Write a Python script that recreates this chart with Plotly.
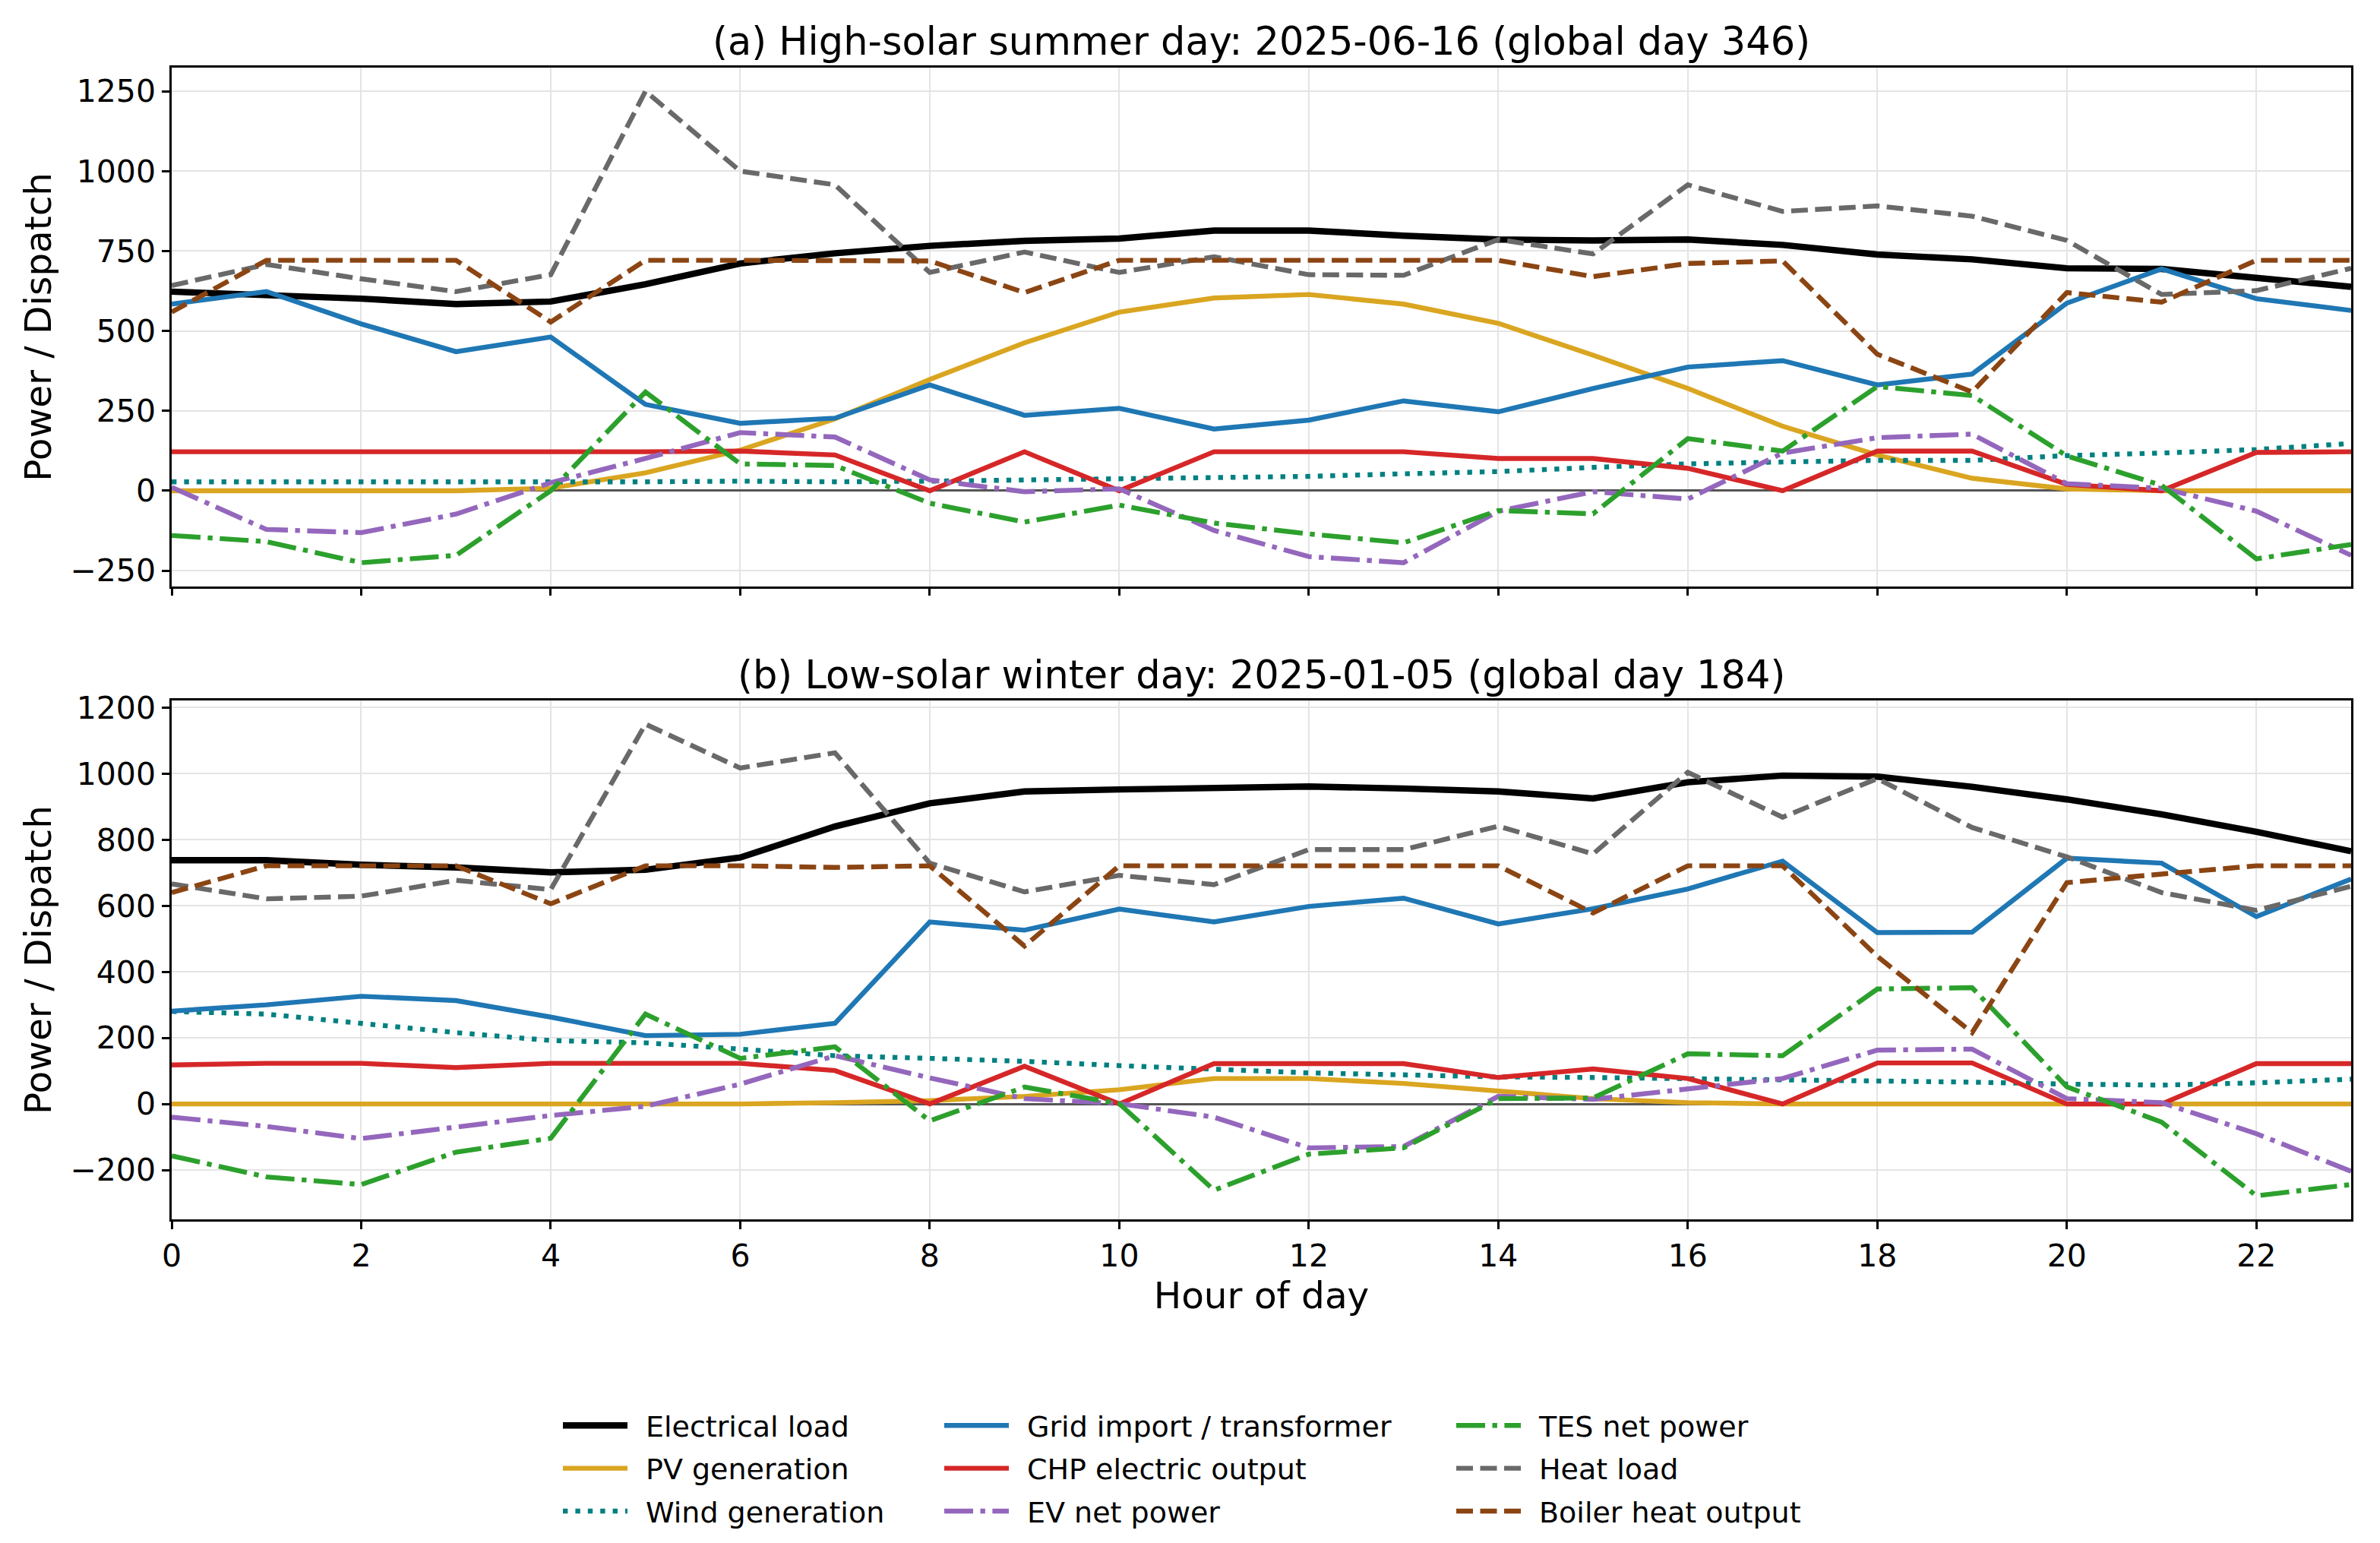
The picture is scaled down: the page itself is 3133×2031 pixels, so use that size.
import plotly.graph_objects as go

# ---------------- data ----------------
hours = list(range(24))

# (a) High-solar summer day
load_s = [623, 614, 601, 584, 592, 646, 711, 743, 766, 782, 789, 814, 814, 798, 786, 783, 786, 769, 739, 724, 696, 694, 665, 638]
pv_s = [0, 0, 0, 0, 8, 56, 127, 225, 348, 463, 559, 603, 614, 584, 524, 424, 320, 202, 112, 39, 6, 0, 0, 0]
wind_s = [28, 28, 26, 25, 25, 28, 30, 28, 30, 34, 37, 42, 45, 53, 60, 73, 84, 90, 95, 95, 110, 118, 129, 148]
grid_s = [584, 623, 522, 435, 481, 270, 211, 227, 331, 236, 258, 193, 221, 281, 247, 320, 387, 407, 331, 365, 587, 694, 601, 564]
chp_s = [122, 122, 122, 120, 122, 122, 124, 112, 0, 122, 0, 122, 122, 122, 101, 101, 70, 0, 124, 124, 20, 0, 120, 122]
ev_s = [11, -121, -131, -73, 25, 101, 182, 168, 34, -3, 6, -124, -206, -225, -64, -3, -26, 118, 166, 177, 22, 8, -64, -202]
tes_s = [-140, -159, -225, -202, 0, 309, 84, 79, -39, -98, -45, -101, -135, -163, -62, -72, 163, 124, 326, 298, 109, 17, -213, -168]
heat_s = [642, 708, 663, 623, 676, 1250, 1000, 957, 683, 747, 683, 732, 676, 674, 786, 741, 957, 874, 891, 859, 783, 614, 626, 696]
boiler_s = [559, 721, 721, 721, 528, 721, 721, 719, 719, 620, 721, 721, 721, 721, 721, 670, 711, 719, 427, 309, 620, 590, 721, 721]

# (b) Low-solar winter day
load_w = [738, 738, 724, 716, 701, 709, 746, 840, 910, 946, 952, 958, 961, 955, 946, 925, 974, 994, 991, 960, 922, 877, 824, 765]
pv_w = [0, 0, 0, 0, 0, 0, 0, 4, 10, 23, 43, 77, 77, 62, 38, 16, 4, 0, 0, 0, 0, 0, 0, 0]
wind_w = [280, 272, 244, 216, 192, 185, 166, 146, 138, 129, 116, 105, 94, 88, 82, 80, 77, 71, 69, 66, 60, 57, 64, 75]
grid_w = [281, 300, 326, 313, 263, 207, 211, 244, 551, 526, 590, 551, 598, 623, 545, 591, 651, 735, 519, 520, 744, 729, 567, 681]
chp_w = [118, 123, 123, 110, 123, 123, 123, 101, 0, 114, 0, 122, 122, 122, 80, 106, 77, 0, 124, 124, 0, 0, 122, 122]
ev_w = [-40, -68, -105, -71, -35, -7, 60, 146, 79, 16, 1, -40, -133, -129, 23, 14, 47, 77, 163, 166, 16, 4, -90, -204]
tes_w = [-157, -221, -244, -146, -104, 272, 138, 173, -51, 51, 1, -261, -152, -133, 16, 18, 152, 146, 348, 352, 52, -55, -278, -244]
heat_w = [666, 621, 629, 677, 649, 1150, 1017, 1063, 729, 642, 692, 664, 770, 770, 841, 757, 1004, 868, 985, 837, 748, 640, 586, 659]
boiler_w = [640, 721, 721, 721, 606, 721, 721, 716, 721, 478, 721, 721, 721, 721, 721, 578, 721, 721, 447, 216, 670, 696, 721, 721]

series_names = ["Electrical load", "PV generation", "Wind generation",
                "Grid import / transformer", "CHP electric output", "EV net power",
                "TES net power", "Heat load", "Boiler heat output"]
summer = [load_s, pv_s, wind_s, grid_s, chp_s, ev_s, tes_s, heat_s, boiler_s]
winter = [load_w, pv_w, wind_w, grid_w, chp_w, ev_w, tes_w, heat_w, boiler_w]

title_a = "(a) High-solar summer day: 2025-06-16 (global day 346)"
title_b = "(b) Low-solar winter day: 2025-01-05 (global day 184)"

# ---------------- styles ----------------
LW = 6.4
DASHED = "22px,9.5px"
DOTTED = "6.4px,10px"
DASHDOT = "38px,9.5px,6.4px,9.5px"
styles = [
    dict(color="#000000", width=8.4, dash="solid", legend="legend"),
    dict(color="#DAA520", width=LW, dash="solid", legend="legend"),
    dict(color="#008080", width=LW, dash=DOTTED, legend="legend"),
    dict(color="#1f77b4", width=LW, dash="solid", legend="legend2"),
    dict(color="#d62728", width=LW, dash="solid", legend="legend2"),
    dict(color="#9467bd", width=LW, dash=DASHDOT, legend="legend2"),
    dict(color="#2ca02c", width=LW, dash=DASHDOT, legend="legend3"),
    dict(color="#696969", width=LW, dash=DASHED, legend="legend3"),
    dict(color="#8B4513", width=LW, dash=DASHED, legend="legend3"),
]

FONT = "DejaVu Sans"
GAP = "\u2002"  # small spacing between legend symbol and label
fig = go.Figure()

for i, name in enumerate(series_names):
    st = styles[i]
    fig.add_trace(go.Scatter(
        x=hours, y=summer[i], mode="lines", name=GAP + name,
        line=dict(color=st["color"], width=st["width"], dash=st["dash"]),
        xaxis="x", yaxis="y", legend=st["legend"], legendgroup=name,
        showlegend=True))
for i, name in enumerate(series_names):
    st = styles[i]
    fig.add_trace(go.Scatter(
        x=hours, y=winter[i], mode="lines", name=GAP + name,
        line=dict(color=st["color"], width=st["width"], dash=st["dash"]),
        xaxis="x2", yaxis="y2", legend=st["legend"], legendgroup=name,
        showlegend=False))


def padded(arrs):
    lo = min(min(a) for a in arrs)
    hi = max(max(a) for a in arrs)
    m = 0.05 * (hi - lo)
    return [lo - m, hi + m]


W, H = 3133, 2031
ML, MR, MT, MB = 226, 38, 89, 426
PW, PH = W - ML - MR, H - MT - MB
top_dom = [0.5497, 1.0]
bot_dom = [0.0, 0.4505]

axis_common = dict(
    showline=True, mirror=True, linecolor="black", linewidth=2.6,
    ticks="outside", ticklen=10, tickwidth=2.6, tickcolor="black",
    showgrid=True, gridcolor="#e4e4e4", gridwidth=2,
    tickfont=dict(family=FONT, size=41, color="black"),
    automargin=False,
)
AXT = 48.5

fig.update_layout(
    width=W, height=H,
    margin=dict(l=ML, r=MR, t=MT, b=MB, autoexpand=False),
    paper_bgcolor="white", plot_bgcolor="white",
    font=dict(family=FONT, color="black"),
    xaxis=dict(domain=[0, 1], anchor="y", range=[0, 23], tick0=0, dtick=2,
               showticklabels=False, zeroline=False, **axis_common),
    xaxis2=dict(domain=[0, 1], anchor="y2", range=[0, 23], tick0=0, dtick=2,
                matches="x", zeroline=False,
                title=dict(text="Hour of day", font=dict(family=FONT, size=AXT), standoff=8),
                **axis_common),
    yaxis=dict(domain=top_dom, anchor="x", range=padded(summer),
               tickvals=[-250, 0, 250, 500, 750, 1000, 1250],
               zeroline=True, zerolinecolor="#555555", zerolinewidth=2.7,
               title=dict(text="Power / Dispatch", font=dict(family=FONT, size=AXT), standoff=10),
               **axis_common),
    yaxis2=dict(domain=bot_dom, anchor="x2", range=padded(winter),
                tickvals=[-200, 0, 200, 400, 600, 800, 1000, 1200],
                zeroline=True, zerolinecolor="#555555", zerolinewidth=2.7,
                title=dict(text="Power / Dispatch", font=dict(family=FONT, size=AXT), standoff=10),
                **axis_common),
    showlegend=True,
)

leg_common = dict(
    xref="paper", yref="paper", xanchor="left", yanchor="top",
    orientation="v", font=dict(family=FONT, size=38, color="black"),
    bgcolor="rgba(0,0,0,0)", borderwidth=0, itemwidth=85,
    tracegroupgap=4, itemclick=False, itemdoubleclick=False,
)
ytop = (H - MB - 1845) / PH
fig.update_layout(
    legend=dict(x=(736 - ML) / PW, y=ytop, **leg_common),
    legend2=dict(x=(1238 - ML) / PW, y=ytop, **leg_common),
    legend3=dict(x=(1912 - ML) / PW, y=ytop, **leg_common),
)

fig.add_annotation(text=title_a, xref="paper", yref="paper", x=0.5,
                   y=1 + (MT - 55) / PH, xanchor="center", yanchor="middle",
                   showarrow=False, font=dict(family=FONT, size=51, color="black"))
fig.add_annotation(text=title_b, xref="paper", yref="paper", x=0.5,
                   y=(H - MB - 888) / PH, xanchor="center", yanchor="middle",
                   showarrow=False, font=dict(family=FONT, size=51, color="black"))

fig.write_html("out.html")
